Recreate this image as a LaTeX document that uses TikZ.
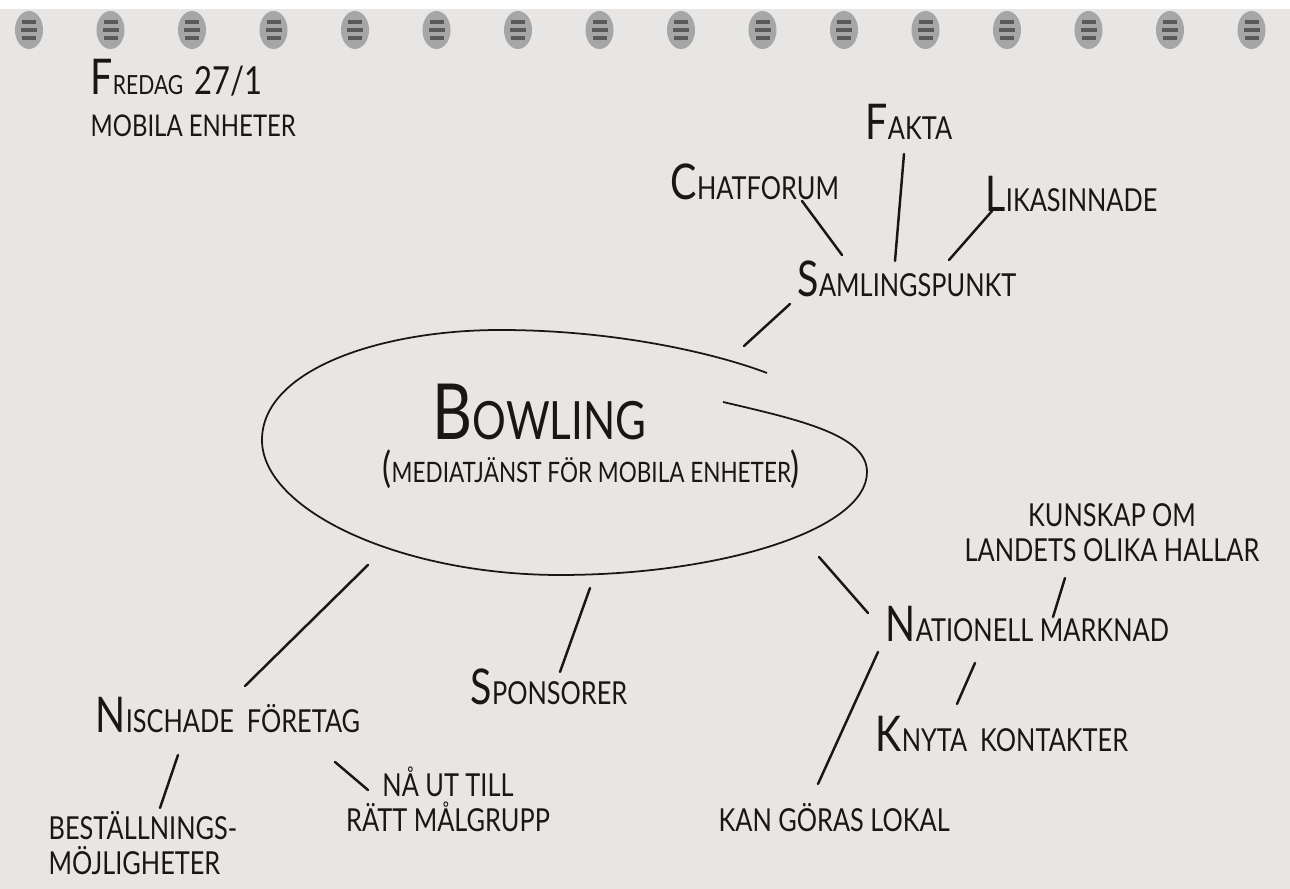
\documentclass[tikz,border=0pt]{standalone}
\usepackage{fontspec}
\setmainfont{Lato}[FakeStretch=0.8]
\definecolor{paper}{RGB}{232,230,228}
\definecolor{ink}{RGB}{25,22,20}
\newcommand{\bigletter}[1]{{\fontsize{14}{14}\selectfont #1}}
\newcommand{\hugeletter}[1]{{\fontsize{22}{22}\selectfont #1}}
\tikzset{
  word/.style={font=\fontsize{9}{10}\selectfont, text=ink, inner sep=0pt, anchor=base west},
  twig/.style={ink, line width=0.7pt, line cap=round},
  ring/.style={fill=black!35}
}

\begin{document}
\begin{tikzpicture}[x=0.01cm, y=-0.01cm]

    % paper and spiral
    \useasboundingbox (0,0) rectangle (1290,889);
    \fill[paper] (0,0) rectangle (1290,889);
    \fill[white] (0,0) rectangle (1290,9);
    \foreach \i in {0,...,15} {
        \fill[ring] (29+81.5*\i,30) ellipse (1.4mm and 1.9mm);
        \fill[black!65] (22+81.5*\i,20) rectangle (36+81.5*\i,24);
        \fill[black!65] (21+81.5*\i,28) rectangle (37+81.5*\i,32);
        \fill[black!65] (22+81.5*\i,36) rectangle (36+81.5*\i,40);
    }

    % header
    \node[word, font=\fontsize{7.5}{9}\selectfont] (fredag) at (90,95) {\bigletter{F}REDAG\ \ {\fontsize{11}{11}\selectfont 27/1}};
    \node[word, font=\fontsize{8.5}{10}\selectfont] (mobila) at (90,137) {MOBILA ENHETER};

    % centre
    \node[word] (bowling) at (432,440) {\hugeletter{B}{\fontsize{15}{15}\selectfont OWLING}};
    \node[word, font=\fontsize{8}{9}\selectfont] (media) at (382,483)
        {{\fontsize{12}{12}\selectfont (}MEDIATJÄNST FÖR MOBILA ENHETER{\fontsize{12}{12}\selectfont )}};
    \draw[ink, line width=0.5pt] (723,402) .. controls (800,420) and (867,435) .. (867,472)
        .. controls (867,530) and (720,575) .. (560,575)
        .. controls (400,575) and (262,510) .. (262,440)
        .. controls (262,370) and (380,330) .. (500,330)
        .. controls (620,330) and (720,355) .. (767,373);

    % top branch
    \node[word] (saml) at (797,297) {\bigletter{S}AMLINGSPUNKT};
    \node[word] (fakta) at (865,140) {\bigletter{F}AKTA};
    \node[word] (chat) at (670,200) {\bigletter{C}HATFORUM};
    \node[word] (lika) at (985,212) {\bigletter{L}IKASINNADE};
    \coordinate (saml-a) at (744,346);  \coordinate (saml-b) at (790,304);
    \coordinate (chat-a) at (802,201);  \coordinate (chat-b) at (842,255);
    \coordinate (fakta-a) at (904,154); \coordinate (fakta-b) at (895,261);
    \coordinate (lika-a) at (992,211);  \coordinate (lika-b) at (949,260);
    \draw[twig] (saml-a) -- (saml-b);
    \draw[twig] (chat-a) -- (chat-b);
    \draw[twig] (fakta-a) -- (fakta-b);
    \draw[twig] (lika-a) -- (lika-b);

    % right branch
    \node[word] (nat) at (885,642) {\bigletter{N}ATIONELL\ MARKNAD};
    \node[word, align=center, anchor=base] (kunskap) at (1112,562) {KUNSKAP OM\\LANDETS OLIKA HALLAR};
    \node[word] (knyta) at (875,752) {\bigletter{K}NYTA\ \ KONTAKTER};
    \node[word] (lokal) at (718,832) {KAN GÖRAS LOKAL};
    \coordinate (nat-a) at (819,557);   \coordinate (nat-b) at (868,613);
    \coordinate (kun-a) at (1053,617);  \coordinate (kun-b) at (1065,578);
    \coordinate (kny-a) at (975,663);   \coordinate (kny-b) at (957,704);
    \coordinate (lok-a) at (878,652);   \coordinate (lok-b) at (818,784);
    \draw[twig] (nat-a) -- (nat-b);
    \draw[twig] (kun-a) -- (kun-b);
    \draw[twig] (kny-a) -- (kny-b);
    \draw[twig] (lok-a) -- (lok-b);

    % left branch
    \node[word] (spons) at (470,705) {\bigletter{S}PONSORER};
    \node[word] (nisch) at (95,733) {\bigletter{N}ISCHADE\ \ FÖRETAG};
    \node[word, align=left] (best) at (48,875) {BESTÄLLNINGS-\\MÖJLIGHETER};
    \node[word, align=center, anchor=base] (malgrupp) at (448,832) {NÅ UT TILL\\RÄTT MÅLGRUPP};
    \coordinate (spo-a) at (590,588);   \coordinate (spo-b) at (560,672);
    \coordinate (nis-a) at (368,565);   \coordinate (nis-b) at (245,686);
    \coordinate (bes-a) at (178,755);   \coordinate (bes-b) at (160,808);
    \coordinate (mal-a) at (335,762);   \coordinate (mal-b) at (368,790);
    \draw[twig] (spo-a) -- (spo-b);
    \draw[twig] (nis-a) -- (nis-b);
    \draw[twig] (bes-a) -- (bes-b);
    \draw[twig] (mal-a) -- (mal-b);

\end{tikzpicture}
\end{document}
